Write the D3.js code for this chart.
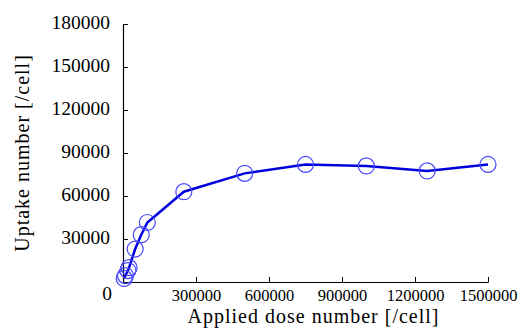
<!DOCTYPE html>
<html>
<head>
<meta charset="utf-8">
<script src="https://cdn.jsdelivr.net/npm/d3@7"></script>
<style>
  body { margin: 0; background: #fff; }
</style>
</head>
<body>
<div id="chart"></div>
<script>
// Chart data
const doseValues = [5000, 10000, 20000, 25000, 50000, 75000, 100000, 250000, 500000, 750000, 1000000, 1250000, 1500000];
const uptakeValues = [2500, 4500, 8000, 10000, 23000, 33000, 41500, 63000, 75800, 82000, 81000, 77500, 82000];
const xTicks = [300000, 600000, 900000, 1200000, 1500000];
const yTicks = [30000, 60000, 90000, 120000, 150000, 180000];

const serif = "Times New Roman, Liberation Serif, serif";
const width = 527, height = 329;
const margin = {top: 24, right: 39, bottom: 47, left: 123};

const svg = d3.select("#chart").append("svg")
    .attr("width", width)
    .attr("height", height)
    .attr("font-family", serif);

const x = d3.scaleLinear()
    .domain([0, 1500000])
    .range([margin.left, width - margin.right]);

const y = d3.scaleLinear()
    .domain([0, 180000])
    .range([height - margin.bottom, margin.top]);

// x axis, ticks pointing inward
const xAxis = svg.append("g")
    .attr("transform", `translate(0, ${y(0)})`)
    .call(d3.axisBottom(x).tickValues(xTicks).tickFormat(d3.format("d"))
        .tickSizeInner(-5).tickSizeOuter(0).tickPadding(7));
xAxis.attr("font-family", serif).attr("font-size", 16.5);
xAxis.select(".domain").attr("stroke", "#000").attr("stroke-width", 1.2);
xAxis.selectAll(".tick line").attr("stroke", "#000");
xAxis.selectAll("text").attr("fill", "#000");

// y axis, ticks pointing inward
const yAxis = svg.append("g")
    .attr("transform", `translate(${x(0)}, 0)`)
    .call(d3.axisLeft(y).tickValues(yTicks).tickFormat(d3.format("d"))
        .tickSizeInner(-5).tickSizeOuter(0).tickPadding(13));
yAxis.attr("font-family", serif).attr("font-size", 19.5);
yAxis.select(".domain").attr("stroke", "#000").attr("stroke-width", 1.2);
yAxis.selectAll(".tick line").attr("stroke", "#000");
yAxis.selectAll("text")
    .attr("fill", "#000")
    .attr("dy", "0.25em");

// shared zero label at the corner
svg.append("text")
    .attr("x", x(0) - 11)
    .attr("y", y(0) + 18)
    .attr("text-anchor", "end")
    .attr("font-size", 19.5)
    .text("0");

// axis titles
svg.append("text")
    .attr("x", (x(0) + x(1500000)) / 2 + 8)
    .attr("y", 323)
    .attr("text-anchor", "middle")
    .attr("font-size", 20)
    .attr("letter-spacing", "1px")
    .text("Applied dose number [/cell]");

svg.append("text")
    .attr("transform", `translate(29, 153) rotate(-90)`)
    .attr("text-anchor", "middle")
    .attr("font-size", 20)
    .attr("letter-spacing", "1px")
    .text("Uptake number [/cell]");

// line
const pts = doseValues.map((d, i) => [d, uptakeValues[i]]);
const line = d3.line()
    .x(d => x(d[0]))
    .y(d => y(d[1]));

svg.append("path")
    .datum(pts)
    .attr("fill", "none")
    .attr("stroke", "#0000dd")
    .attr("stroke-width", 2.5)
    .attr("d", line);

// markers
svg.selectAll("circle.pt")
    .data(pts)
    .enter()
    .append("circle")
    .attr("class", "pt")
    .attr("cx", d => x(d[0]))
    .attr("cy", d => y(d[1]))
    .attr("r", 8)
    .attr("fill", "none")
    .attr("stroke", "#4646ff")
    .attr("stroke-width", 1.2);
</script>
</body>
</html>
